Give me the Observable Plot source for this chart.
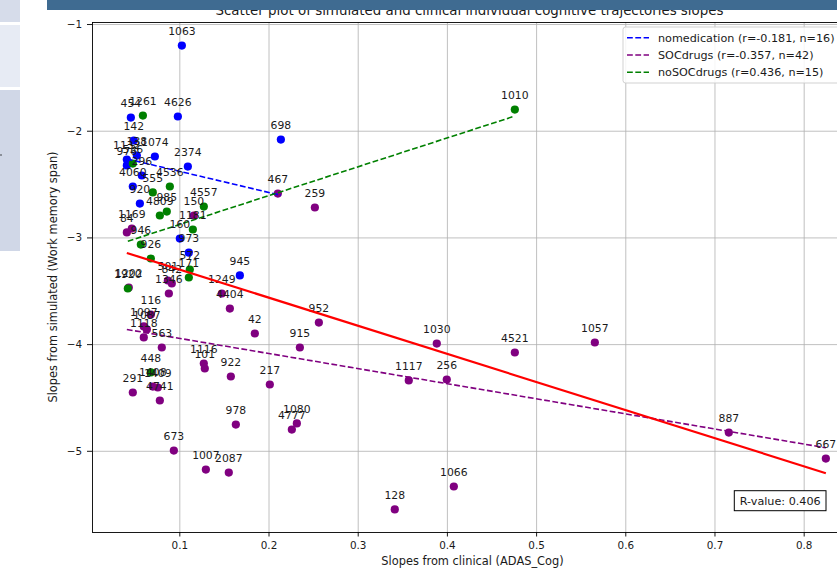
<!DOCTYPE html>
<html><head><meta charset="utf-8">
<script src="https://cdn.jsdelivr.net/npm/d3@7"></script>
<script src="https://cdn.jsdelivr.net/npm/@observablehq/plot@0.6"></script>
<style>
html,body{margin:0;padding:0;overflow:hidden;background:#fff;width:837px;height:573px;}
#chart{position:absolute;left:0;top:0;}
.bar{position:absolute;left:47px;top:0;width:790px;height:10px;background:#3f6b91;}
.side{position:absolute;left:0;width:20px;}
</style></head><body>
<div id="chart"></div>
<div class="bar"></div>
<div class="side" style="top:0;height:22px;background:#d6dcea"></div>
<div class="side" style="top:25px;height:62px;background:#e7ebf4"></div>
<div class="side" style="top:90px;height:161px;background:#d0d7e7"></div>
<div style="position:absolute;left:0;top:154px;width:2px;height:2px;background:#8a8f99"></div>
<script>
// ---- data ----
const groupNames = ["nomedication", "SOCdrugs", "noSOCdrugs"];
const groupColors = ["#0000ff", "#800080", "#008000"];
const groupR = ["-0.181", "-0.357", "0.436"];
const groupN = [16, 42, 15];

const nomedIds = ["1063","454","4626","698","142","1132","138","1074","976","2374","296","4060","920","160","973","945"];
const nomedX = [0.1023,0.0451,0.0978,0.2133,0.0484,0.0406,0.0518,0.0720,0.0406,0.1090,0.0574,0.0473,0.0552,0.1000,0.1101,0.1673];
const nomedY = [-1.197,-1.872,-1.862,-2.078,-2.087,-2.265,-2.228,-2.237,-2.321,-2.331,-2.415,-2.518,-2.678,-3.006,-3.137,-3.352];

const socIds = ["467","259","150","1169","84","501","842","1346","1202","1249","4404","116","1097","1087","1118","563","1408","1409","4741","291","1116","101","922","42","952","915","217","978","1080","4777","673","1007","2087","128","1066","1030","4521","1057","1117","256","887","667"];
const socX = [0.2099,0.2514,0.1157,0.0462,0.0406,0.0866,0.0910,0.0877,0.0428,0.1471,0.1561,0.0675,0.0596,0.0630,0.0596,0.0798,0.0697,0.0753,0.0776,0.0473,0.1269,0.1280,0.1572,0.1841,0.2559,0.2346,0.2009,0.1628,0.2312,0.2256,0.0933,0.1292,0.1549,0.3410,0.4072,0.3881,0.4756,0.5653,0.3567,0.3993,0.7155,0.8243];
const socY = [-2.584,-2.715,-2.790,-2.912,-2.949,-3.399,-3.427,-3.521,-3.465,-3.521,-3.662,-3.718,-3.830,-3.858,-3.933,-4.027,-4.393,-4.402,-4.524,-4.449,-4.177,-4.224,-4.299,-3.896,-3.793,-4.027,-4.374,-4.749,-4.739,-4.796,-4.993,-5.171,-5.199,-5.545,-5.330,-3.990,-4.074,-3.980,-4.336,-4.327,-4.824,-5.068];

const nosocIds = ["1261","1010","536","4536","555","985","4809","4557","1181","946","926","572","171","1920","448"];
const nosocX = [0.0586,0.4756,0.0473,0.0888,0.0697,0.0854,0.0776,0.1269,0.1146,0.0563,0.0675,0.1112,0.1101,0.0417,0.0675];
const nosocY = [-1.853,-1.797,-2.303,-2.518,-2.574,-2.753,-2.790,-2.706,-2.921,-3.062,-3.193,-3.296,-3.371,-3.474,-4.261];

// regression line end points
const fitNames = ["nomedication", "SOCdrugs", "noSOCdrugs", "all"];
const fitX1 = [0.0406, 0.0406, 0.0417, 0.0406];
const fitY1 = [-2.259, -3.858, -3.031, -3.141];
const fitX2 = [0.2133, 0.8243, 0.4756, 0.8243];
const fitY2 = [-2.601, -4.967, -1.858, -5.205];

const xTicks = [0.1, 0.2, 0.3, 0.4, 0.5, 0.6, 0.7, 0.8];
const yTicks = [-1, -2, -3, -4, -5];
const titleText = "Scatter plot of simulated and clinical individual cognitive trajectories slopes";
const xLabel = "Slopes from clinical (ADAS_Cog)";
const yLabel = "Slopes from simulated (Work memory span)";
const rValueText = "R-value: 0.406";

// ---- build tables ----
const groupsIds = [nomedIds, socIds, nosocIds];
const groupsX = [nomedX, socX, nosocX];
const groupsY = [nomedY, socY, nosocY];
const points = [];
groupsIds.forEach((ids, g) => ids.forEach((id, i) => points.push({id, x: groupsX[g][i], y: groupsY[g][i], group: groupNames[g]})));
const fits = fitNames.map((n, i) => ({group: n, x1: fitX1[i], y1: fitY1[i], x2: fitX2[i], y2: fitY2[i]}));

const font = "DejaVu Sans";
const marks = [
  Plot.ruleX(xTicks, {stroke: "#b0b0b0", strokeWidth: 0.8}),
  Plot.ruleY(yTicks, {stroke: "#b0b0b0", strokeWidth: 0.8}),
  Plot.frame({stroke: "#000", strokeWidth: 0.9})
];
groupNames.forEach((g, i) => {
  marks.push(Plot.dot(points.filter(d => d.group === g), {x: "x", y: "y", r: 4.1, fill: groupColors[i], stroke: "none"}));
});
groupNames.forEach((g, i) => {
  marks.push(Plot.link(fits.filter(d => d.group === g), {x1: "x1", y1: "y1", x2: "x2", y2: "y2", stroke: groupColors[i], strokeWidth: 1.6, strokeDasharray: "5.8,2.5"}));
});
marks.push(Plot.text(points, {x: "x", y: "y", text: "id", dy: -10.4, lineAnchor: "bottom", fontSize: 10.8, fill: "#1a1a1a"}));
marks.push(Plot.link(fits.filter(d => d.group === "all"), {x1: "x1", y1: "y1", x2: "x2", y2: "y2", stroke: "#ff0000", strokeWidth: 2.2}));

const plot = Plot.plot({
  width: 860, height: 573,
  marginLeft: 92, marginRight: 7, marginTop: 22, marginBottom: 41,
  style: {fontFamily: font, fontSize: "10.4px", color: "#1a1a1a", background: "transparent"},
  x: {domain: [0.0021, 0.8553], ticks: xTicks, tickFormat: d => d.toFixed(1), tickSize: 4.5, tickPadding: 5, label: null},
  y: {domain: [-5.761, -0.981], ticks: yTicks, tickFormat: d3.format("d"), tickSize: 5, tickPadding: 5.5, label: null},
  marks
});
plot.style.maxWidth = "none";
plot.style.overflow = "visible";
document.getElementById("chart").appendChild(plot);

const svg = d3.select(plot);
// title
svg.append("text").attr("x", 469.5).attr("y", 15).attr("text-anchor", "middle")
  .attr("font-family", font).attr("font-size", 13.4).attr("fill", "#1a1a1a").text(titleText);
// axis labels
svg.append("text").attr("x", 472.5).attr("y", 565).attr("text-anchor", "middle")
  .attr("font-family", font).attr("font-size", 11.4).attr("fill", "#1a1a1a").text(xLabel);
svg.append("text").attr("transform", "translate(57.3,277) rotate(-90)").attr("text-anchor", "middle")
  .attr("font-family", font).attr("font-size", 11.4).attr("fill", "#1a1a1a").text(yLabel);

// legend
const lg = svg.append("g").attr("text-anchor", "start");
lg.append("rect").attr("x", 623).attr("y", 27).attr("width", 228).attr("height", 56).attr("rx", 2.5)
  .attr("fill", "#fff").attr("fill-opacity", 0.85).attr("stroke", "#cccccc").attr("stroke-width", 0.9);
const rows = [37.7, 55, 72.3];
groupNames.forEach((g, i) => {
  lg.append("line").attr("x1", 627).attr("x2", 649).attr("y1", rows[i]).attr("y2", rows[i])
    .attr("stroke", groupColors[i]).attr("stroke-width", 1.6).attr("stroke-dasharray", "5.8,2.5");
  lg.append("text").attr("x", 658).attr("y", rows[i]).attr("dy", "0.34em").attr("text-anchor", "start")
    .attr("font-family", font).attr("font-size", 11.2).attr("fill", "#1a1a1a")
    .text(`${g} (r=${groupR[i]}, n=${groupN[i]})`);
});

// R-value box
svg.append("rect").attr("x", 734.3).attr("y", 490.7).attr("width", 91.7).attr("height", 20)
  .attr("fill", "#fff").attr("stroke", "#000").attr("stroke-width", 1);
svg.append("text").attr("x", 780.2).attr("y", 500.7).attr("dy", "0.35em").attr("text-anchor", "middle")
  .attr("font-family", font).attr("font-size", 11.2).attr("fill", "#1a1a1a").text(rValueText);
</script>
</body></html>
